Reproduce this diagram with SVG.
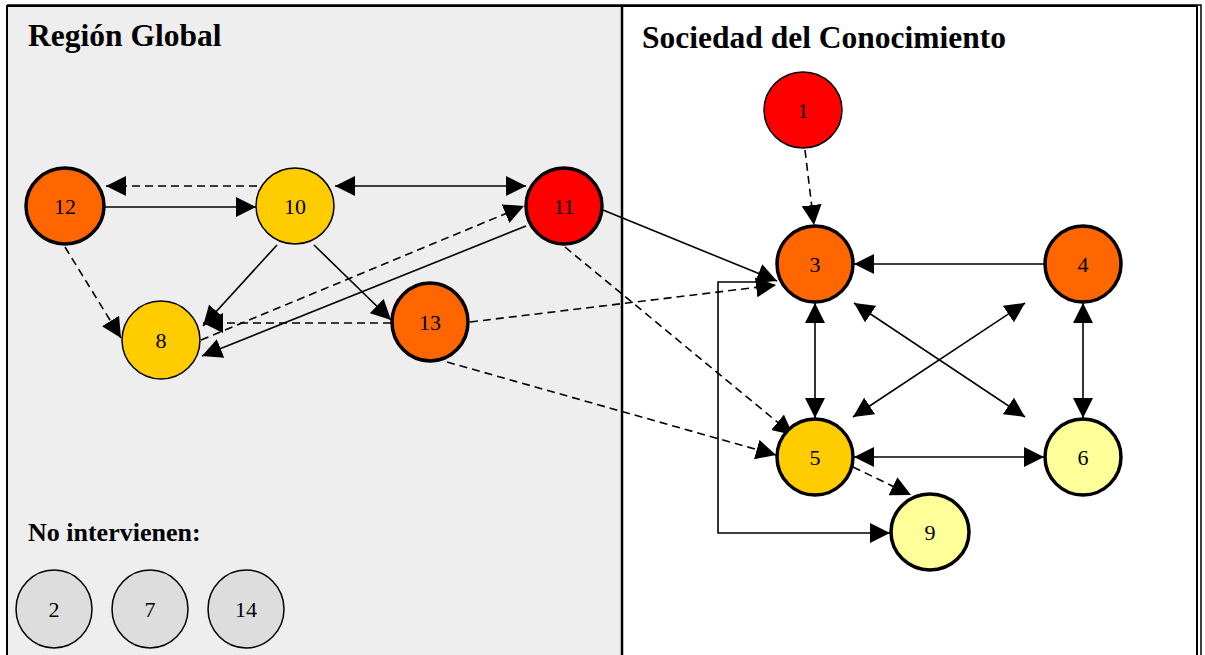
<svg xmlns="http://www.w3.org/2000/svg" width="1205" height="655" viewBox="0 0 1205 655">
<defs>
<marker id="ah" viewBox="0 0 20 20" refX="20" refY="10" markerWidth="20" markerHeight="20" markerUnits="userSpaceOnUse" orient="auto-start-reverse">
<path d="M0,0 L20,10 L0,20 Z" fill="#000"/>
</marker>
<style>
.title{font-family:"Liberation Serif","Times New Roman",serif;font-weight:bold;fill:#000}
.lbl{font-family:"Liberation Serif","Times New Roman",serif;font-size:22px;fill:#000;text-anchor:middle}
.thick{stroke:#000;stroke-width:3.5}
.thin{stroke:#000;stroke-width:1.5}
.e{fill:none;stroke:#000;stroke-width:1.6}
.d{stroke-dasharray:8,5}
.one{marker-end:url(#ah)}
.two{marker-start:url(#ah);marker-end:url(#ah)}
</style>
</defs>
<g id="frame">
<rect x="7" y="6" width="615" height="660" fill="#EEEEEE"/>
<rect x="622" y="6" width="575" height="660" fill="#FFFFFF"/>
<path d="M7,666 L7,6 L1197,6 L1197,666" fill="none" stroke="#000" stroke-width="2"/>
<path d="M7,5 L1201,5 L1201,666" fill="none" stroke="#000" stroke-width="1.5"/>
<line x1="622" y1="6" x2="622" y2="666" stroke="#000" stroke-width="2.5"/>
</g>
<text class="title" x="28" y="46" font-size="31.5">Región Global</text>
<text class="title" x="642" y="48" font-size="31.5">Sociedad del Conocimiento</text>
<text class="title" x="28" y="541" font-size="26">No intervienen:</text>
<g id="connectors">
<path class="e d one" d="M257,186 L106,186"/>
<path class="e one" d="M105,207 L256,207"/>
<path class="e two" d="M335,186 L526,186"/>
<path class="e d one" d="M65,247 L121,338"/>
<path class="e one" d="M277,245 L203,326"/>
<path class="e one" d="M314,245 L391,320"/>
<path class="e d one" d="M391,323 L203,323"/>
<path class="e d one" d="M201,340 L524,206"/>
<path class="e one" d="M526,226 L202,356"/>
<path class="e one" d="M603,210 L777,281"/>
<path class="e d one" d="M470,322 L776,285"/>
<path class="e d one" d="M565,247 L793,435"/>
<path class="e d one" d="M447,362 L776,455"/>
<path class="e d one" d="M805,150 L814,225"/>
<path class="e one" d="M1044,264 L854,264"/>
<path class="e two" d="M815,303 L815,418"/>
<path class="e two" d="M1083,303 L1083,418"/>
<path class="e two" d="M854,457 L1044,457"/>
<path class="e two" d="M854,303 L1025,417"/>
<path class="e two" d="M853,417 L1025,303"/>
<path class="e d one" d="M853,467 L911,495"/>
<path class="e one" d="M758,282 L718,282 L718,533 L890,533"/>
</g>
<g id="n12"><ellipse class="thick" cx="65" cy="206" rx="39" ry="38" fill="#FF6600"/><text class="lbl" x="65" y="214">12</text></g>
<g id="n10"><ellipse class="thin" cx="295" cy="206" rx="39" ry="38" fill="#FFCC00"/><text class="lbl" x="295" y="214">10</text></g>
<g id="n11"><ellipse class="thick" cx="564" cy="206" rx="38" ry="38" fill="#FF0000"/><text class="lbl" x="564" y="214">11</text></g>
<g id="n8"><ellipse class="thin" cx="161" cy="340" rx="39" ry="39" fill="#FFCC00"/><text class="lbl" x="161" y="348">8</text></g>
<g id="n13"><ellipse class="thick" cx="430" cy="322" rx="38" ry="39" fill="#FF6600"/><text class="lbl" x="430" y="330">13</text></g>
<g id="n1"><ellipse class="thin" cx="803" cy="110" rx="39" ry="38" fill="#FF0000"/><text class="lbl" x="803" y="118">1</text></g>
<g id="n3"><ellipse class="thick" cx="815" cy="264" rx="38" ry="38" fill="#FF6600"/><text class="lbl" x="815" y="272">3</text></g>
<g id="n4"><ellipse class="thick" cx="1083" cy="264" rx="38" ry="38" fill="#FF6600"/><text class="lbl" x="1083" y="272">4</text></g>
<g id="n5"><ellipse class="thick" cx="815" cy="457" rx="38" ry="38" fill="#FFCC00"/><text class="lbl" x="815" y="465">5</text></g>
<g id="n6"><ellipse class="thick" cx="1083" cy="457" rx="38" ry="38" fill="#FFFF99"/><text class="lbl" x="1083" y="465">6</text></g>
<g id="n9"><ellipse class="thick" cx="930" cy="532" rx="39" ry="38" fill="#FFFF99"/><text class="lbl" x="930" y="540">9</text></g>
<g id="n2"><ellipse class="thin" cx="54" cy="609" rx="38" ry="39" fill="#DDDDDD"/><text class="lbl" x="54" y="617">2</text></g>
<g id="n7"><ellipse class="thin" cx="150" cy="609" rx="38" ry="39" fill="#DDDDDD"/><text class="lbl" x="150" y="617">7</text></g>
<g id="n14"><ellipse class="thin" cx="246" cy="609" rx="38" ry="39" fill="#DDDDDD"/><text class="lbl" x="246" y="617">14</text></g>
</svg>
